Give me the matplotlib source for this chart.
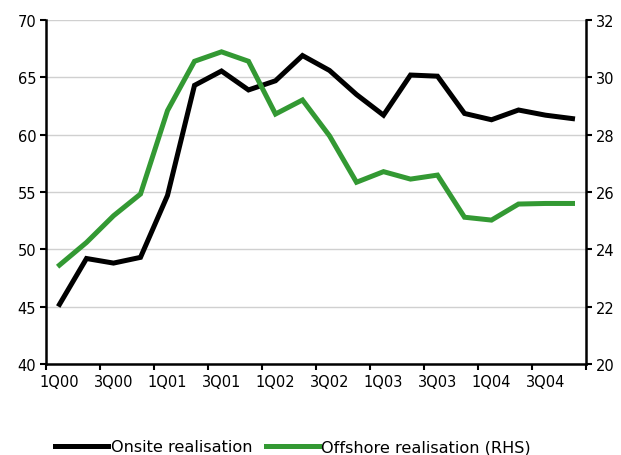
import numpy as np
import matplotlib
matplotlib.use("Agg")
import matplotlib.pyplot as plt
from matplotlib.lines import Line2D

quarters = ["1Q00", "2Q00", "3Q00", "4Q00", "1Q01", "2Q01", "3Q01", "4Q01",
            "1Q02", "2Q02", "3Q02", "4Q02", "1Q03", "2Q03", "3Q03", "4Q03",
            "1Q04", "2Q04", "3Q04", "4Q04"]
onsite = [45.2, 49.2, 48.8, 49.3, 54.7, 64.3, 65.55, 63.9,
          64.7, 66.9, 65.6, 63.5, 61.7, 65.2, 65.1, 61.85,
          61.3, 62.15, 61.7, 61.4]
offshore = [23.45, 24.24, 25.17, 25.93, 28.84, 30.56, 30.89, 30.56,
            28.72, 29.21, 27.96, 26.34, 26.71, 26.45, 26.59, 25.12,
            25.02, 25.58, 25.6, 25.6]
left_ticks = [40, 45, 50, 55, 60, 65, 70]
right_ticks = [20, 22, 24, 26, 28, 30, 32]

plt.rcParams['font.family'] = ['DejaVu Sans']
FS = 10.5
LFS = 11.6
BLACK = '#000000'
GREEN = '#339933'

fig = plt.figure(figsize=(6.21, 4.56), dpi=100)
ax1 = fig.add_axes([46/621, 1-365/456, (586-46)/621, (365-21)/456])
ax2 = ax1.twinx()

x = np.arange(len(quarters))
ax1.plot(x, onsite, color=BLACK, lw=3.6, solid_joinstyle='miter', zorder=3)
ax2.plot(x, offshore, color=GREEN, lw=3.6, solid_joinstyle='miter', zorder=3)

ax1.set_xlim(-0.5, len(quarters) - 0.5)
ax1.set_ylim(left_ticks[0], left_ticks[-1])
ax2.set_ylim(right_ticks[0], right_ticks[-1])
ax1.set_yticks(left_ticks)
ax2.set_yticks(right_ticks)
ax1.set_yticklabels([str(v) for v in left_ticks], fontsize=FS)
ax2.set_yticklabels([str(v) for v in right_ticks], fontsize=FS)

ax1.set_xticks(np.arange(-0.5, len(quarters), 2))
ax1.set_xticklabels([])
ax1.set_xticks(x[::2], minor=True)
ax1.set_xticklabels(quarters[::2], minor=True, fontsize=FS)
ax1.tick_params(axis='x', which='major', direction='out', length=4, width=1.5)
ax1.tick_params(axis='x', which='minor', length=0, pad=7)
ax1.tick_params(axis='y', direction='out', length=4, width=1.5, pad=3)
ax2.tick_params(axis='y', direction='out', length=4, width=1.5, pad=3)

ax1.yaxis.grid(True, color='#d0d0d0', linewidth=1)
ax1.set_axisbelow(True)

for ax in (ax1, ax2):
    ax.spines['top'].set_visible(False)
    for s in ('left', 'right', 'bottom'):
        ax.spines[s].set_linewidth(1.8)
        ax.spines[s].set_color('black')
ax2.spines['left'].set_visible(False)
ax2.spines['bottom'].set_visible(False)
ax1.spines['right'].set_visible(False)

handles = [Line2D([], [], color=BLACK, lw=3.6),
           Line2D([], [], color=GREEN, lw=3.6)]
fig.legend(handles, ["Onsite realisation", "Offshore realisation (RHS)"],
           loc='center left', bbox_to_anchor=(55/621, 1-448/456),
           bbox_transform=fig.transFigure, ncol=2, frameon=False,
           fontsize=LFS, handlelength=3.3, handletextpad=0.15,
           columnspacing=0.85, borderpad=0, borderaxespad=0)

fig.savefig("out.png", dpi=100)
